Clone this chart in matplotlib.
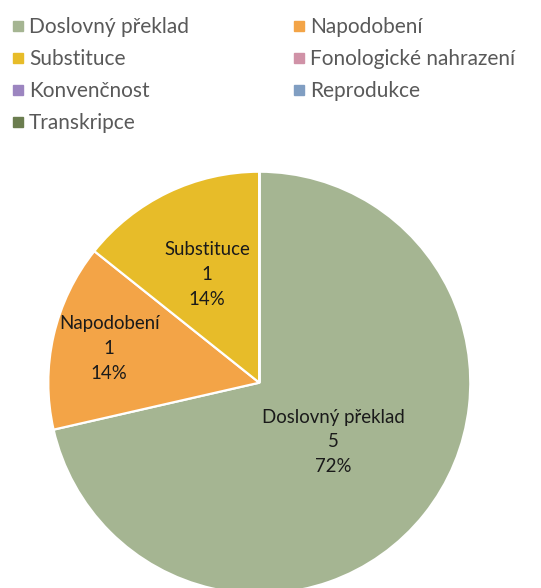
import numpy as np
import matplotlib.pyplot as plt
from matplotlib.lines import Line2D

# data
categories = ["Doslovný překlad", "Napodobení", "Substituce", "Fonologické nahrazení",
              "Konvenčnost", "Reprodukce", "Transkripce"]
counts = [5, 1, 1, 0, 0, 0, 0]
pct_labels = ["72%", "14%", "14%", "0%", "0%", "0%", "0%"]
colors = ["#A5B592", "#F3A447", "#E7BC29", "#D092A7", "#9C85C0", "#809EC2", "#6B7D4F"]
label_dist = [0.45, 0.73, 0.57, 0.6, 0.6, 0.6, 0.6]

plt.rcParams['font.family'] = ['Lato', 'DejaVu Sans']

W, H = 541, 588
fig = plt.figure(figsize=(W / 100, H / 100), dpi=100)

# pie centre (259, 383), radius 211 px
cx, cy, r = 259.3, 382.7, 211
ax = fig.add_axes([(cx - r) / W, (H - cy - r) / H, 2 * r / W, 2 * r / H])

wedges, _ = ax.pie(counts, colors=colors, startangle=90, counterclock=False, radius=1,
                   wedgeprops=dict(edgecolor='white', linewidth=1.6))
ax.set_xlim(-1, 1)
ax.set_ylim(-1, 1)
ax.axis('off')

for w, name, c, p, d in zip(wedges, categories, counts, pct_labels, label_dist):
    if c == 0:
        continue
    ang = np.deg2rad((w.theta1 + w.theta2) / 2)
    ax.text(d * np.cos(ang), d * np.sin(ang), f"{name}\n{c}\n{p}",
            ha='center', va='center', fontsize=13.4, color='#1a1a1a', linespacing=1.55)

# legend, row-major like the original
order = [0, 2, 4, 6, 1, 3, 5]
handles = [Line2D([], [], marker='s', linestyle='', markersize=7.5,
                  markerfacecolor=colors[i], markeredgecolor=colors[i]) for i in order]
labels = [categories[i] for i in order]
fig.legend(handles, labels, ncol=2, loc='upper left', bbox_to_anchor=(0.0, 1.0 - 5 / H),
           frameon=False, fontsize=15, labelcolor='#595959', handlelength=0.55,
           handletextpad=0.25, columnspacing=5.0, labelspacing=0.57, borderaxespad=0.2)

fig.savefig("out.png", dpi=100)
